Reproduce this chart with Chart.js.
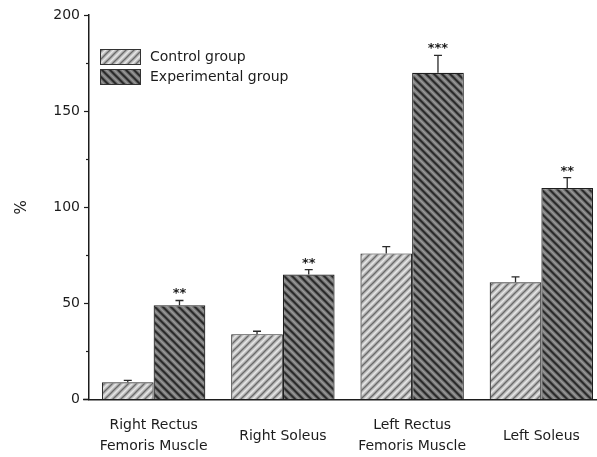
<!DOCTYPE html>
<html>
<head>
<meta charset="utf-8">
<script src="https://cdn.jsdelivr.net/npm/chart.js@4/dist/chart.umd.min.js"></script>
<style>
  html, body { margin: 0; padding: 0; background: #fff; overflow: hidden; }
  #wrap { width: 597px; height: 457px; overflow: hidden; position: relative; }
  canvas { display: block; }
</style>
</head>
<body>
<div id="wrap"><canvas id="c" width="610" height="457"></canvas></div>
<script>
// Muscle groups on the x axis
const categories = [
  ['Right Rectus', 'Femoris Muscle'],
  'Right Soleus',
  ['Left Rectus', 'Femoris Muscle'],
  'Left Soleus'
];
// Mean values (%) and their error (SEM)
const controlValues = [9, 34, 76, 61];
const controlErrors = [1, 1.5, 3.5, 2.8];
const experimentalValues = [49, 65, 170, 110];
const experimentalErrors = [2.5, 2.6, 9, 5.4];
// Significance markers above the experimental bars
const significance = ['**', '**', '***', '**'];
const yTicks = [0, 50, 100, 150, 200];
const yMinorTicks = [25, 75, 125, 175];

const FONT = 'DejaVu Sans';
const INK = '#1c1c1c';

// Hatched fills
function hatch(base, dark, light, dir, size, darkW, lightW) {
  const c = document.createElement('canvas');
  c.width = size; c.height = size;
  const g = c.getContext('2d');
  g.fillStyle = base;
  g.fillRect(0, 0, size, size);
  const line = (off, color, w) => {
    g.strokeStyle = color; g.lineWidth = w;
    for (const k of [-size, 0, size]) {
      g.beginPath();
      if (dir === '/') {
        g.moveTo(-1 + k + off, size + 1);
        g.lineTo(size + 1 + k + off, -1);
      } else {
        g.moveTo(-1 + k + off, -1);
        g.lineTo(size + 1 + k + off, size + 1);
      }
      g.stroke();
    }
  };
  line(size / 2, light, lightW);
  line(0, dark, darkW);
  return g.createPattern(c, 'repeat');
}
const controlFill = hatch('#bdbdbd', '#6a6a6a', '#e6e6e6', '/', 8, 1.3, 1.5);
const experimentalFill = hatch('#6f6f6f', '#262626', '#989898', '\\', 8, 1.7, 1.5);

const extras = {
  id: 'extras',
  afterDatasetsDraw(chart) {
    const ctx = chart.ctx;
    const ys = chart.scales.y;
    const errs = [controlErrors, experimentalErrors];
    ctx.save();
    ctx.strokeStyle = '#2a2a2a';
    ctx.lineWidth = 1.3;
    chart.data.datasets.forEach((ds, di) => {
      const meta = chart.getDatasetMeta(di);
      meta.data.forEach((bar, i) => {
        const v = ds.data[i];
        const top = ys.getPixelForValue(v + errs[di][i]);
        const base = ys.getPixelForValue(v);
        ctx.beginPath();
        ctx.moveTo(bar.x, base);
        ctx.lineTo(bar.x, top);
        ctx.moveTo(bar.x - 4, top);
        ctx.lineTo(bar.x + 4, top);
        ctx.stroke();
        if (di === 1) {
          ctx.fillStyle = INK;
          ctx.font = 'bold 13px "' + FONT + '"';
          ctx.textAlign = 'center';
          ctx.textBaseline = 'alphabetic';
          ctx.fillText(significance[i], bar.x, top - 3);
        }
      });
    });
    ctx.restore();
  },
  afterDraw(chart) {
    const ctx = chart.ctx;
    const ys = chart.scales.y;
    const area = chart.chartArea;
    ctx.save();
    ctx.strokeStyle = INK;
    ctx.lineWidth = 1.2;
    // minor ticks on the y axis
    yMinorTicks.forEach(v => {
      const p = Math.round(ys.getPixelForValue(v)) + 0.5;
      ctx.beginPath();
      ctx.moveTo(area.left - 3, p);
      ctx.lineTo(area.left, p);
      ctx.stroke();
    });
    // baseline runs a little past the y axis
    ctx.lineWidth = 1.5;
    ctx.beginPath();
    ctx.moveTo(area.left - 6, area.bottom);
    ctx.lineTo(area.left, area.bottom);
    ctx.stroke();
    // legend
    const lx = 100, sw = 41, sh = 16;
    const rows = [49, 69];
    chart.data.datasets.forEach((ds, i) => {
      const y0 = rows[i];
      ctx.fillStyle = ds.backgroundColor;
      ctx.fillRect(lx, y0, sw, sh);
      ctx.strokeStyle = '#333';
      ctx.lineWidth = 1;
      ctx.strokeRect(lx + 0.5, y0 + 0.5, sw - 1, sh - 1);
      ctx.fillStyle = INK;
      ctx.font = '14px "' + FONT + '"';
      ctx.textAlign = 'left';
      ctx.textBaseline = 'middle';
      ctx.fillText(ds.label, 150, y0 + sh / 2);
    });
    ctx.restore();
  }
};

new Chart(document.getElementById('c'), {
  type: 'bar',
  data: {
    labels: categories,
    datasets: [
      {
        label: 'Control group',
        data: controlValues,
        backgroundColor: controlFill,
        borderColor: '#2a2a2a',
        borderWidth: 1.2
      },
      {
        label: 'Experimental group',
        data: experimentalValues,
        backgroundColor: experimentalFill,
        borderColor: '#1e1e1e',
        borderWidth: 1.2
      }
    ]
  },
  options: {
    responsive: false,
    animation: false,
    events: [],
    layout: { padding: { top: 15, right: 4, left: 0, bottom: 0 } },
    plugins: {
      legend: { display: false },
      tooltip: { enabled: false }
    },
    datasets: {
      bar: { categoryPercentage: 0.8, barPercentage: 1.0 }
    },
    scales: {
      x: {
        grid: { display: true, drawOnChartArea: false, drawTicks: false },
        border: { display: true, color: INK, width: 1.5 },
        ticks: {
          color: INK,
          font: { family: FONT, size: 14, lineHeight: 1.5 },
          padding: 26,
          crossAlign: 'center',
          maxRotation: 0,
          autoSkip: false
        },
        afterFit(s) { s.height = 57.5; }
      },
      y: {
        min: 0,
        max: 200,
        afterBuildTicks(s) { s.ticks = yTicks.map(v => ({ value: v })); },
        grid: { drawOnChartArea: false, drawTicks: true, tickLength: 5, tickColor: INK, tickWidth: 1.2 },
        border: { display: true, color: INK, width: 1.5 },
        ticks: {
          color: INK,
          font: { family: FONT, size: 14 },
          padding: 4
        },
        title: {
          display: true,
          text: '%',
          color: INK,
          font: { family: FONT, size: 15 },
          padding: { top: 13, bottom: 0 }
        },
        afterFit(s) { s.width = 89; }
      }
    }
  },
  plugins: [extras]
});
</script>
</body>
</html>
